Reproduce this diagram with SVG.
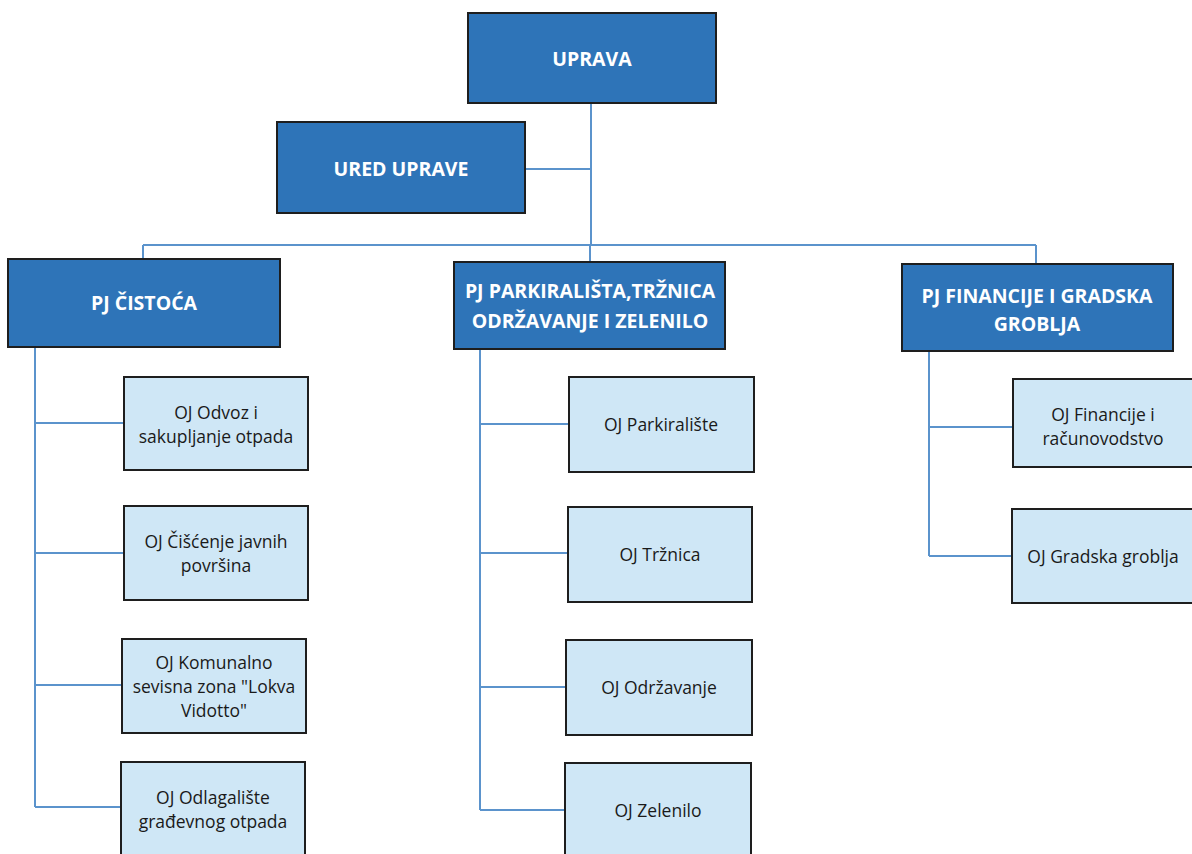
<svg xmlns="http://www.w3.org/2000/svg" width="1192" height="854" viewBox="0 0 1192 854">
<style>
.dk{fill:#2e74b8;stroke:#1e1e1e;stroke-width:2}
.lt{fill:#cfe7f6;stroke:#1e1e1e;stroke-width:2}
.tw{font-family:"Open Sans",sans-serif;font-weight:bold;font-size:19.5px;fill:#ffffff;text-anchor:middle;dominant-baseline:central}
.tb{font-family:"Open Sans",sans-serif;font-size:17.5px;fill:#1a1a1a;text-anchor:middle;dominant-baseline:central}
.cn{fill:none;stroke:#5b93cc;stroke-width:2}
</style>
<rect width="1192" height="854" fill="#ffffff"/>
<g id="connectors">
<path class="cn" d="M591,103 V245 M525,169 H591 M143,245 H1036 M143,245 V259 M590,245 V262 M1036,245 V264"/>
<path class="cn" d="M35,347 V807 M35,423 H124 M35,553 H124 M35,685 H124 M35,807 H124"/>
<path class="cn" d="M480,349 V810 M480,424 H568 M480,553 H568 M480,687 H566 M480,810 H566"/>
<path class="cn" d="M929,351 V556 M929,427 H1013 M929,556 H1012"/>
</g>
<g id="uprava"><rect class="dk" x="468" y="13" width="248" height="90"/><text class="tw" x="592" y="58">UPRAVA</text></g>
<g id="ured-uprave"><rect class="dk" x="277" y="122" width="248" height="91"/><text class="tw" x="401" y="168">URED UPRAVE</text></g>
<g id="pj-cistoca"><rect class="dk" x="8" y="259" width="272" height="88"/><text class="tw" x="144" y="302">PJ ČISTOĆA</text></g>
<g id="pj-parkiralista"><rect class="dk" x="454" y="262" width="271" height="87"/><text class="tw" x="590" y="290">PJ PARKIRALIŠTA,TRŽNICA</text><text class="tw" x="590" y="320">ODRŽAVANJE I ZELENILO</text></g>
<g id="pj-financije"><rect class="dk" x="902" y="264" width="271" height="87"/><text class="tw" x="1037" y="295">PJ FINANCIJE I GRADSKA</text><text class="tw" x="1037" y="323">GROBLJA</text></g>
<g id="oj-odvoz"><rect class="lt" x="124" y="377" width="184" height="93"/><text class="tb" x="216" y="412">OJ Odvoz i</text><text class="tb" x="216" y="436">sakupljanje otpada</text></g>
<g id="oj-ciscenje"><rect class="lt" x="124" y="506" width="184" height="94"/><text class="tb" x="216" y="541">OJ Čišćenje javnih</text><text class="tb" x="216" y="565">površina</text></g>
<g id="oj-komunalno"><rect class="lt" x="122" y="639" width="184" height="94"/><text class="tb" x="214" y="662">OJ Komunalno</text><text class="tb" x="214" y="686">sevisna zona "Lokva</text><text class="tb" x="214" y="710">Vidotto"</text></g>
<g id="oj-odlagaliste"><rect class="lt" x="121" y="762" width="184" height="100"/><text class="tb" x="213" y="797">OJ Odlagalište</text><text class="tb" x="213" y="821">građevnog otpada</text></g>
<g id="oj-parkiraliste"><rect class="lt" x="569" y="377" width="185" height="95"/><text class="tb" x="661" y="424">OJ Parkiralište</text></g>
<g id="oj-trznica"><rect class="lt" x="568" y="507" width="184" height="95"/><text class="tb" x="660" y="554">OJ Tržnica</text></g>
<g id="oj-odrzavanje"><rect class="lt" x="566" y="640" width="186" height="95"/><text class="tb" x="659" y="687">OJ Održavanje</text></g>
<g id="oj-zelenilo"><rect class="lt" x="565" y="763" width="186" height="100"/><text class="tb" x="658" y="810">OJ Zelenilo</text></g>
<g id="oj-financije"><rect class="lt" x="1013" y="379" width="190" height="88"/><text class="tb" x="1103" y="414">OJ Financije i</text><text class="tb" x="1103" y="438">računovodstvo</text></g>
<g id="oj-groblja"><rect class="lt" x="1012" y="509" width="190" height="94"/><text class="tb" x="1103" y="556">OJ Gradska groblja</text></g>
</svg>
